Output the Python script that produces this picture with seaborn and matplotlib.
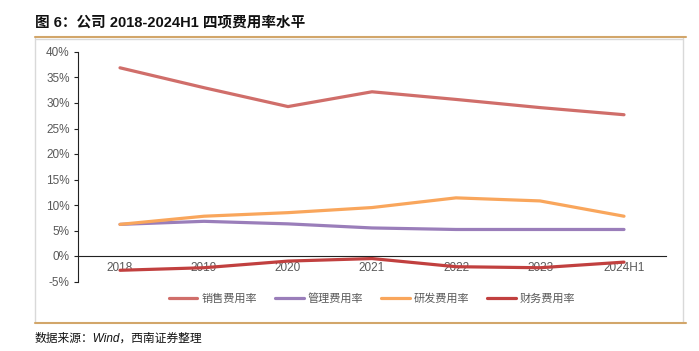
import matplotlib
matplotlib.use("Agg")
import matplotlib.pyplot as plt
from matplotlib.lines import Line2D
from matplotlib.ticker import FuncFormatter
import numpy as np
import pandas as pd
import seaborn as sns

# data (%)
years = ["2018", "2019", "2020", "2021", "2022", "2023", "2024H1"]
sales_rate = [36.9, 33.0, 29.3, 32.2, 30.7, 29.1, 27.7]
admin_rate = [6.2, 6.8, 6.3, 5.5, 5.2, 5.2, 5.2]
rd_rate = [6.2, 7.8, 8.5, 9.5, 11.4, 10.8, 7.8]
fin_rate = [-2.8, -2.3, -1.0, -0.5, -2.1, -2.3, -1.2]

series_names = ["销售费用率", "管理费用率", "研发费用率", "财务费用率"]
colors = ["#D06E6A", "#9A7EBA", "#F9A65C", "#C1403F"]

df = pd.DataFrame({
    "year": years * 4,
    "x": list(range(len(years))) * 4,
    "rate": sales_rate + admin_rate + rd_rate + fin_rate,
    "series": sum([[n] * len(years) for n in series_names], []),
})

sns.set_style("white")
plt.rcParams["font.family"] = ["Liberation Sans", "Noto Sans CJK SC", "DejaVu Sans"]

W, H = 699, 351
fig = plt.figure(figsize=(W / 100, H / 100), dpi=100)
ax = fig.add_axes([78 / W, 1 - 281.5 / H, 588 / W, (281.5 - 52) / H])

sns.lineplot(data=df, x="x", y="rate", hue="series", hue_order=series_names,
             palette=dict(zip(series_names, colors)), linewidth=2.3, ax=ax,
             legend=False)

ax.set_xlim(-0.5, len(years) - 0.5)
ax.set_ylim(-5, 40)
ax.set_yticks(np.arange(-5, 41, 5))
ax.yaxis.set_major_formatter(FuncFormatter(lambda v, p: f"{v:.0f}%"))
ax.set_xticks(range(len(years)))
ax.set_xticklabels(years)
ax.set_xticks(np.arange(-0.5, len(years), 1), minor=True)
ax.tick_params(axis="x", which="major", length=0, pad=4, labelsize=8.5, labelcolor="#595959")
ax.tick_params(axis="x", which="minor", direction="in", length=3, width=0.8, color="#222222")
ax.tick_params(axis="y", direction="out", length=3, width=0.8, color="#222222",
               labelsize=8.5, labelcolor="#595959", pad=3, left=True)
ax.set_xlabel("")
ax.set_ylabel("")

for s in ["top", "right"]:
    ax.spines[s].set_visible(False)
ax.spines["bottom"].set_position(("data", 0))
ax.spines["bottom"].set_color("#222222")
ax.spines["bottom"].set_linewidth(0.8)
ax.spines["left"].set_color("#222222")
ax.spines["left"].set_linewidth(0.8)

handles = [Line2D([], [], color=c, linewidth=2.3) for c in colors]
leg = fig.legend(handles, series_names, loc="center", bbox_to_anchor=(372 / W, 1 - 298 / H),
                 ncol=4, frameon=False, fontsize=8, handlelength=2.6, handletextpad=0.35,
                 columnspacing=1.6)
for t in leg.get_texts():
    t.set_color("#595959")

# frame around the chart
gold = "#D2A66A"
gray = "#D9D9D9"
fig.add_artist(Line2D([35 / W, 683 / W], [1 - 38.5 / H, 1 - 38.5 / H], color=gray, linewidth=1))
fig.add_artist(Line2D([35 / W, 35 / W], [1 - 38 / H, 1 - 322 / H], color=gray, linewidth=1))
fig.add_artist(Line2D([683 / W, 683 / W], [1 - 38 / H, 1 - 322 / H], color=gray, linewidth=1))
fig.add_artist(Line2D([35 / W, 686 / W], [1 - 37 / H, 1 - 37 / H], color=gold, linewidth=1.5))
fig.add_artist(Line2D([35 / W, 686 / W], [1 - 323 / H, 1 - 323 / H], color=gold, linewidth=1.5))

fig.text(35 / W, 1 - 23 / H, "图 6：公司 2018-2024H1 四项费用率水平", fontsize=10.5,
         fontweight="bold", ha="left", va="center", color="#111111")
fig.text(35 / W, 1 - 339 / H, "数据来源：Wind，西南证券整理", fontsize=8.5,
         style="italic", ha="left", va="center", color="#111111")

fig.savefig("out.png", dpi=100)
